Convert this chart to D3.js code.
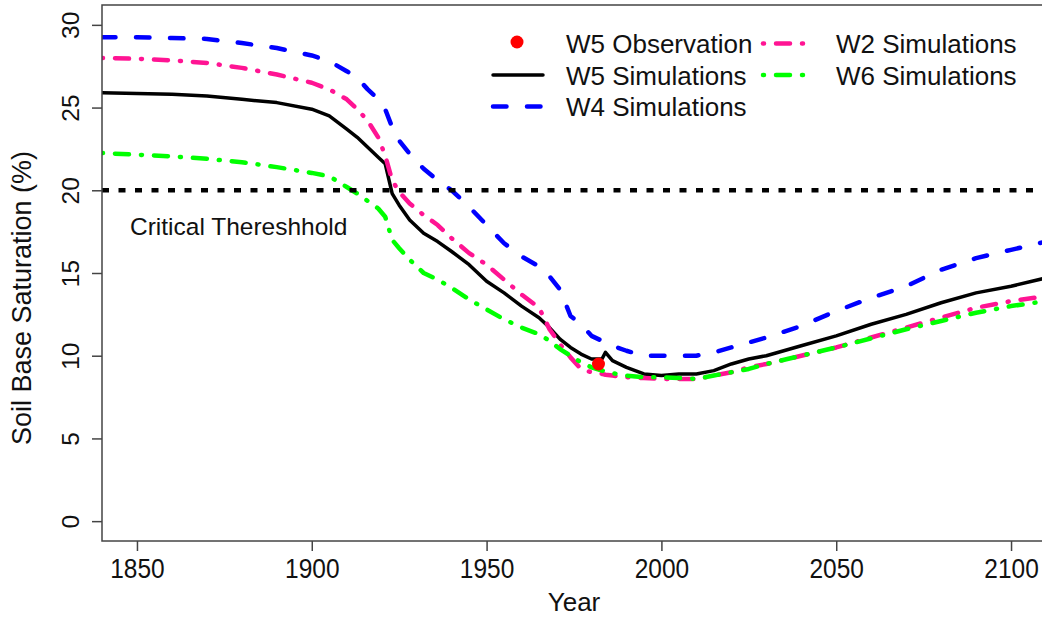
<!DOCTYPE html>
<html>
<head>
<meta charset="utf-8">
<script src="https://cdn.jsdelivr.net/npm/d3@7"></script>
<style>
  body { margin: 0; background: #fff; }
  svg text { font-family: "Liberation Sans", Arial, sans-serif; fill: #111; }
</style>
</head>
<body>
<svg id="chart" width="1042" height="619"></svg>
<script>
// sample years shared by all simulation series
const years = [1840, 1850, 1860, 1870, 1880, 1890, 1900, 1905, 1910, 1913, 1916, 1919, 1921, 1923, 1925,
  1928, 1932, 1936, 1940, 1945, 1950, 1955, 1960, 1965, 1968, 1971, 1974, 1977, 1980, 1983, 1984, 1986,
  1990, 1995, 2000, 2005, 2010, 2015, 2020, 2025, 2030, 2040, 2050, 2060, 2070, 2080, 2090, 2100, 2110];

const w5Sim = [25.9, 25.85, 25.8, 25.7, 25.5, 25.3, 24.9, 24.5, 23.7, 23.2, 22.6, 22.0, 21.6, 19.8, 19.1,
  18.2, 17.4, 16.9, 16.3, 15.5, 14.5, 13.8, 13.0, 12.3, 11.7, 11.0, 10.5, 10.1, 9.8, 9.8, 10.2, 9.7,
  9.3, 8.9, 8.8, 8.9, 8.9, 9.1, 9.5, 9.8, 10.0, 10.6, 11.2, 11.9, 12.5, 13.2, 13.8, 14.2, 14.7];

const w4Sim = [29.25, 29.25, 29.2, 29.15, 28.9, 28.6, 28.15, 27.8, 27.2, 26.8, 26.1, 25.5, 24.9, 23.8, 23.0,
  22.2, 21.3, 20.6, 20.0, 19.0, 17.9, 16.8, 16.0, 15.4, 14.8, 14.0, 12.4, 11.9, 11.2, 10.9, 10.8, 10.6,
  10.3, 10.0, 10.0, 10.0, 10.0, 10.2, 10.5, 10.8, 11.1, 11.8, 12.7, 13.5, 14.2, 15.2, 15.9, 16.4, 16.9];

const w2Sim = [28.0, 27.95, 27.85, 27.7, 27.4, 27.0, 26.5, 26.1, 25.5, 24.9, 24.2, 23.2, 22.1, 20.6, 19.9,
  19.2, 18.5, 17.9, 17.1, 16.2, 15.5, 14.6, 13.7, 12.9, 11.6, 10.7, 9.9, 9.2, 9.0, 8.9, 8.85, 8.8,
  8.7, 8.65, 8.6, 8.6, 8.6, 8.8, 9.0, 9.3, 9.5, 10.0, 10.5, 11.1, 11.7, 12.3, 12.9, 13.3, 13.6];

const w6Sim = [22.25, 22.15, 22.05, 21.9, 21.7, 21.4, 21.05, 20.85, 20.2, 19.8, 19.35, 18.9, 18.4, 17.0, 16.5,
  15.8, 15.0, 14.6, 14.1, 13.4, 12.8, 12.2, 11.7, 11.3, 10.9, 10.4, 10.0, 9.6, 9.3, 9.1, 9.05, 8.95,
  8.8, 8.7, 8.7, 8.65, 8.6, 8.8, 9.0, 9.2, 9.5, 10.0, 10.5, 11.05, 11.6, 12.1, 12.6, 13.0, 13.3];

const obsYear = [1982];
const obsValue = [9.5];
const threshold = 20;

const xTicks = [1850, 1900, 1950, 2000, 2050, 2100];
const yTicks = [0, 5, 10, 15, 20, 25, 30];

const seriesStyles = [
  { name: "W5 Simulations", values: w5Sim, color: "#000000", width: 3.5, dash: null },
  { name: "W4 Simulations", values: w4Sim, color: "#0000FF", width: 4.5, dash: "13.5,20.5" },
  { name: "W2 Simulations", values: w2Sim, color: "#FF1493", width: 4.5, dash: "1,12,14,12" },
  { name: "W6 Simulations", values: w6Sim, color: "#00FF00", width: 4.5, dash: "1,12,14,12" }
];

const svg = d3.select("#chart");
const plotL = 102, plotT = 5, plotR = 1046, plotB = 541;

const x = d3.scaleLinear().domain([1840, 2110]).range([plotL, plotR]);
const y = d3.scaleLinear().domain([-1.2, 31.2]).range([plotB, plotT]);

svg.append("defs").append("clipPath").attr("id", "plotclip")
  .append("rect").attr("x", plotL).attr("y", plotT)
  .attr("width", plotR - plotL).attr("height", plotB - plotT);

const plot = svg.append("g").attr("clip-path", "url(#plotclip)");

const line = d3.line()
  .x((d, i) => x(years[i]))
  .y(d => y(d));

seriesStyles.forEach(s => {
  plot.append("path")
    .datum(s.values)
    .attr("fill", "none")
    .attr("stroke", s.color)
    .attr("stroke-width", s.width)
    .attr("stroke-linecap", "round")
    .attr("stroke-linejoin", "round")
    .attr("stroke-dasharray", s.dash)
    .attr("d", line);
});

// critical threshold
plot.append("line")
  .attr("x1", plotL).attr("x2", plotR)
  .attr("y1", y(threshold)).attr("y2", y(threshold))
  .attr("stroke", "#000")
  .attr("stroke-width", 4.5)
  .attr("stroke-dasharray", "7,9.5");

plot.append("text")
  .attr("x", x(1848))
  .attr("y", y(threshold) + 45)
  .attr("font-size", 24.5)
  .text("Critical Thereshhold");

// observation
plot.selectAll(".obs")
  .data(obsYear)
  .enter().append("circle")
  .attr("class", "obs")
  .attr("cx", d => x(d))
  .attr("cy", (d, i) => y(obsValue[i]))
  .attr("r", 6.5)
  .attr("fill", "#FF0000");

// box
svg.append("rect")
  .attr("x", plotL).attr("y", plotT)
  .attr("width", plotR - plotL).attr("height", plotB - plotT)
  .attr("fill", "none").attr("stroke", "#444").attr("stroke-width", 1.5);

// x axis
const xAxis = svg.append("g")
  .attr("transform", `translate(0,${plotB})`)
  .call(d3.axisBottom(x).tickValues(xTicks).tickSize(10).tickFormat(d3.format("d")));
xAxis.select(".domain").remove();
xAxis.selectAll(".tick line").attr("stroke", "#444").attr("stroke-width", 1.5);
xAxis.selectAll("text")
  .attr("y", 0).attr("dy", 0)
  .attr("transform", "translate(0,36.5) scale(1,1.1)")
  .attr("font-size", 24.5)
  .attr("font-family", "Liberation Sans, Arial, sans-serif")
  .attr("fill", "#111");

// y axis
const yAxis = svg.append("g")
  .attr("transform", `translate(${plotL},0)`)
  .call(d3.axisLeft(y).tickValues(yTicks).tickSize(10));
yAxis.select(".domain").remove();
yAxis.selectAll(".tick line").attr("stroke", "#444").attr("stroke-width", 1.5);
yAxis.selectAll("text")
  .attr("transform", "rotate(-90)")
  .attr("x", 0).attr("y", -23).attr("dy", 0)
  .attr("text-anchor", "middle")
  .attr("font-size", 24.5)
  .attr("font-family", "Liberation Sans, Arial, sans-serif")
  .attr("fill", "#111");

// axis titles
svg.append("text")
  .attr("x", 574)
  .attr("y", 611)
  .attr("text-anchor", "middle")
  .attr("font-size", 26)
  .text("Year");

svg.append("text")
  .attr("transform", "translate(31,298)rotate(-90)")
  .attr("text-anchor", "middle")
  .attr("font-size", 27)
  .text("Soil Base Saturation (%)");

// legend
const legend = svg.append("g");
const legendItems = [
  { label: "W5 Observation", type: "point", color: "#FF0000", col: 0, row: 0 },
  { label: "W5 Simulations", type: "line", s: seriesStyles[0], col: 0, row: 1 },
  { label: "W4 Simulations", type: "line", s: seriesStyles[1], col: 0, row: 2 },
  { label: "W2 Simulations", type: "line", s: seriesStyles[2], col: 1, row: 0 },
  { label: "W6 Simulations", type: "line", s: seriesStyles[3], col: 1, row: 1 }
];
const colX = [493, 763];
const rowY = [43.5, 75, 106.5];

legendItems.forEach(it => {
  const x0 = colX[it.col], yy = rowY[it.row];
  if (it.type === "point") {
    legend.append("circle").attr("cx", x0 + 24).attr("cy", yy - 1.5).attr("r", 6.5).attr("fill", it.color);
  } else {
    legend.append("line")
      .attr("x1", x0).attr("x2", x0 + 50)
      .attr("y1", yy).attr("y2", yy)
      .attr("stroke", it.s.color)
      .attr("stroke-width", it.s.width)
      .attr("stroke-linecap", "round")
      .attr("stroke-dasharray", it.s.dash);
  }
  legend.append("text")
    .attr("x", x0 + 73)
    .attr("y", yy + 9.5)
    .attr("font-size", 26)
    .text(it.label);
});
</script>
</body>
</html>
